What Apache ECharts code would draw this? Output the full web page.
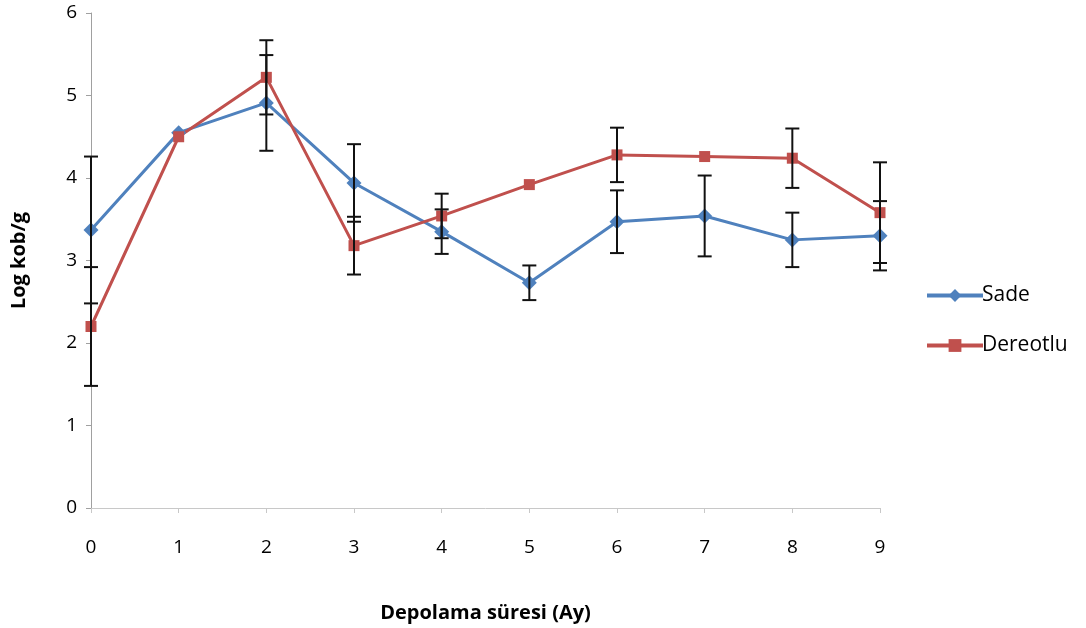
<!DOCTYPE html>
<html><head><meta charset="utf-8">
<script src="https://cdn.jsdelivr.net/npm/echarts@6/dist/echarts.min.js"></script>
<style>html,body{margin:0;padding:0;background:#fff}#c{width:1086px;height:628px}</style>
</head><body><div id="c"></div>
<script>
const months = [0,1,2,3,4,5,6,7,8,9];
const sadeValues = [3.37,4.55,4.91,3.94,3.35,2.73,3.47,3.54,3.25,3.30];
const sadeErrors = [0.89,0,0.58,0.47,0.27,0.21,0.38,0.49,0.33,0.42];
const dereotluValues = [2.20,4.50,5.22,3.18,3.54,3.92,4.28,4.26,4.24,3.58];
const dereotluErrors = [0.72,0,0.45,0.35,0.27,0,0.33,0,0.36,0.61];
const yTicks = [0,1,2,3,4,5,6];

const font = 'Open Sans';
function pairs(vals){return months.map((m,i)=>[m,vals[i]]);}
function errData(vals,errs){return months.map((m,i)=>[m,vals[i]-errs[i],vals[i]+errs[i]]);}
function errRender(params, api){
  const x = api.value(0);
  if (api.value(2) - api.value(1) <= 0) return null;
  const lo = api.coord([x, api.value(1)]);
  const hi = api.coord([x, api.value(2)]);
  const w = 7;
  const st = {stroke:'#111', lineWidth:2};
  return {type:'group', children:[
    {type:'line', shape:{x1:lo[0],y1:lo[1],x2:hi[0],y2:hi[1]}, style:st},
    {type:'line', shape:{x1:lo[0]-w,y1:lo[1],x2:lo[0]+w,y2:lo[1]}, style:st},
    {type:'line', shape:{x1:hi[0]-w,y1:hi[1],x2:hi[0]+w,y2:hi[1]}, style:st}
  ]};
}
const chart = echarts.init(document.getElementById('c'));
chart.setOption({
  backgroundColor:'#fff',
  animation:false,
  grid:{left:91,right:206,top:13,bottom:119,containLabel:false},
  legend:{
    orient:'vertical', left:920, top:280, itemGap:29, itemWidth:56, itemHeight:16,
    lineStyle:{width:4},
    textStyle:{fontFamily:font,fontSize:21,color:'#000',padding:[0,0,0,-6]},
    data:['Sade','Dereotlu']
  },
  xAxis:{
    type:'value', min:0, max:9, interval:1,
    name:'Depolama süresi (Ay)', nameLocation:'middle', nameGap:95,
    nameTextStyle:{fontFamily:font,fontSize:20,fontWeight:'bold',color:'#000'},
    axisLine:{show:true,lineStyle:{color:'#c8c8c8',width:1}},
    axisTick:{show:true,length:5,lineStyle:{color:'#c8c8c8'}},
    axisLabel:{fontFamily:font,fontSize:19,color:'#000',margin:30,formatter:v=>String(months[v]!==undefined?months[v]:v)},
    splitLine:{show:false}
  },
  yAxis:{
    type:'value', min:yTicks[0], max:yTicks[yTicks.length-1], interval:1,
    name:'Log kob/g', nameLocation:'middle', nameGap:62, nameRotate:90,
    nameTextStyle:{fontFamily:font,fontSize:20,fontWeight:'bold',color:'#000'},
    axisLine:{show:true,lineStyle:{color:'#a0a0a0',width:1}},
    axisTick:{show:true,length:5,lineStyle:{color:'#a0a0a0'}},
    axisLabel:{fontFamily:font,fontSize:19,color:'#000',margin:14},
    splitLine:{show:false}
  },
  series:[
    {name:'Sade',type:'line',data:pairs(sadeValues),symbol:'diamond',symbolSize:15,
     lineStyle:{color:'#4F81BD',width:3},itemStyle:{color:'#4F81BD'},z:3},
    {name:'Dereotlu',type:'line',data:pairs(dereotluValues),symbol:'rect',symbolSize:11,
     lineStyle:{color:'#C0504D',width:3},itemStyle:{color:'#C0504D'},z:3},
    {type:'custom',renderItem:errRender,data:errData(sadeValues,sadeErrors),z:5,silent:true},
    {type:'custom',renderItem:errRender,data:errData(dereotluValues,dereotluErrors),z:5,silent:true}
  ]
});
</script></body></html>
